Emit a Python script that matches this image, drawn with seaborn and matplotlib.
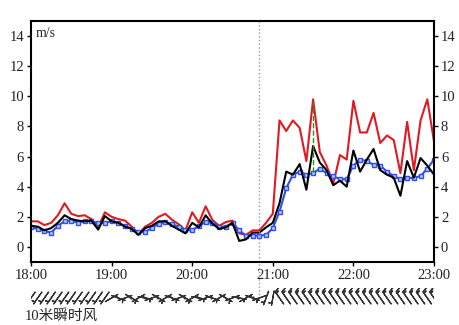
import numpy as np
import pandas as pd
import matplotlib
matplotlib.use("Agg")
import matplotlib.pyplot as plt
import seaborn as sns

# ---- data (5-minute steps, 18:00 - 23:00) ----
red_vals = [1.7, 1.7, 1.45, 1.6, 2.1, 2.9, 2.2, 2.05, 2.1, 1.85, 1.3, 2.3,
            2.0, 1.85, 1.75, 1.35, 0.85, 1.35, 1.6, 2.0, 2.2, 1.8, 1.5, 1.1,
            2.3, 1.6, 2.7, 1.8, 1.4, 1.65, 1.75, 0.9, 0.8, 1.1, 1.1, 1.6,
            2.2, 8.4, 7.7, 8.4, 7.9, 5.7, 9.8, 6.3, 5.4, 4.2, 6.1, 5.8,
            9.7, 7.6, 7.6, 8.9, 6.9, 7.4, 7.1, 4.9, 8.3, 5.1, 8.4, 9.8, 7.0]
black_vals = [1.4, 1.35, 1.1, 1.25, 1.6, 2.1, 1.85, 1.75, 1.7, 1.75, 1.15, 2.05,
              1.7, 1.6, 1.35, 1.2, 0.8, 1.25, 1.4, 1.7, 1.7, 1.4, 1.15, 0.9,
              1.6, 1.3, 2.1, 1.55, 1.2, 1.3, 1.6, 0.4, 0.5, 0.95, 0.95, 1.3,
              1.6, 2.9, 5.0, 4.8, 5.5, 3.8, 6.7, 5.6, 5.1, 4.1, 4.4, 4.0,
              6.4, 5.0, 5.8, 6.5, 5.1, 4.8, 4.6, 3.4, 5.7, 4.6, 5.9, 5.4, 4.8]
blue_vals = [1.3, 1.2, 1.05, 0.95, 1.4, 1.7, 1.75, 1.6, 1.7, 1.7, 1.6, 1.6,
             1.7, 1.6, 1.4, 1.2, 1.0, 1.0, 1.25, 1.55, 1.65, 1.5, 1.35, 1.1,
             1.1, 1.4, 1.65, 1.6, 1.35, 1.35, 1.6, 1.1, 0.75, 0.75, 0.75, 0.8,
             1.25, 2.35, 3.9, 4.8, 5.0, 4.8, 4.9, 5.2, 4.9, 4.7, 4.5, 4.5,
             5.4, 5.8, 5.7, 5.45, 5.4, 5.0, 4.7, 4.5, 4.55, 4.6, 4.7, 5.2, 5.8]
gust_time = [21.5, 21.5]
gust_vals = [5.0, 9.6]
wind_dir = [215] * 12 + [60, 110, 70, 120, 60, 100, 70, 120, 60, 110, 70, 120,
                         60, 100, 70, 110, 60, 120, 70, 100, 60, 110] + \
           [250, 200, 190] + [325] * 24
wind_spd = [2.0] * 34 + [2.0, 2.0, 2.0] + [6.0] * 24
x_ticks = [18, 19, 20, 21, 22, 23]
x_labels = ["18:00", "19:00", "20:00", "21:00", "22:00", "23:00"]
y_ticks = [0, 2, 4, 6, 8, 10, 12, 14]
event_time = 20 + 50 / 60

times = [18 + i * 5 / 60 for i in range(len(red_vals))]
df = pd.DataFrame({"t": times, "red": red_vals, "black": black_vals, "blue": blue_vals})

sns.set_theme(style="white")
plt.rcParams["font.family"] = ["Liberation Serif", "Noto Sans CJK SC"]

fig = plt.figure(figsize=(4.6, 3.25), dpi=100)
ax = fig.add_axes([31 / 460, 1 - 262 / 325, 403 / 460, 241 / 325])

sns.lineplot(data=df, x="t", y="red", ax=ax, color="#e01a22", lw=1.5)
sns.lineplot(data=df, x="t", y="blue", ax=ax, color="#2f4fe8", lw=1.5,
             marker="s", markersize=3.5, markerfacecolor="#b8c4f8",
             markeredgecolor="#2f4fe8", markeredgewidth=1.0)
sns.lineplot(data=df, x="t", y="black", ax=ax, color="black", lw=1.5)
sns.lineplot(x=gust_time, y=gust_vals, ax=ax, color="#1a9a1a", lw=1.0,
             linestyle="--", estimator=None)

ax.plot([event_time, event_time], [1.0, -0.15], transform=ax.get_xaxis_transform(),
        color="#999999", lw=1.0, linestyle=":", clip_on=False)

ax.set_xlim(18, 23)
ax.set_ylim(-1, 15)
ax.set_xticks(x_ticks)
ax.set_xticklabels(x_labels)
ax.set_xticks([18.5, 19.5, 20.5, 21.5, 22.5], minor=True)
ax.set_yticks(y_ticks)
ax.set_xlabel("")
ax.set_ylabel("")
ax.tick_params(axis="both", which="both", direction="out", length=3, width=1,
               colors="black", labelsize=10.5, pad=2, labelcolor="#222222")
ax.tick_params(axis="y", left=True, right=True, labelleft=True, labelright=True)
ax.tick_params(axis="x", bottom=True)
for s in ax.spines.values():
    s.set_color("black")
    s.set_linewidth(1.5)
ax.text(0.012, 0.975, "m/s", transform=ax.transAxes, ha="left", va="top", fontsize=10)

# wind barbs strip
bax = fig.add_axes([31 / 460, 1 - 308 / 325, 403 / 460, 20 / 325])
rad = np.deg2rad(wind_dir)
u = [-s * np.sin(r) for s, r in zip(wind_spd, rad)]
v = [-s * np.cos(r) for s, r in zip(wind_spd, rad)]
bax.barbs(times, [0.5] * len(times), u, v, length=4.6, linewidth=0.9, pivot="middle",
          barb_increments=dict(half=2, full=4, flag=20), color="#333333")
bax.set_xlim(18, 23)
bax.set_ylim(0, 1)
bax.axis("off")

fig.text(25 / 460, 2 / 325, "10米瞬时风", ha="left", va="bottom", fontsize=10.5)

fig.savefig("out.png", dpi=100)
